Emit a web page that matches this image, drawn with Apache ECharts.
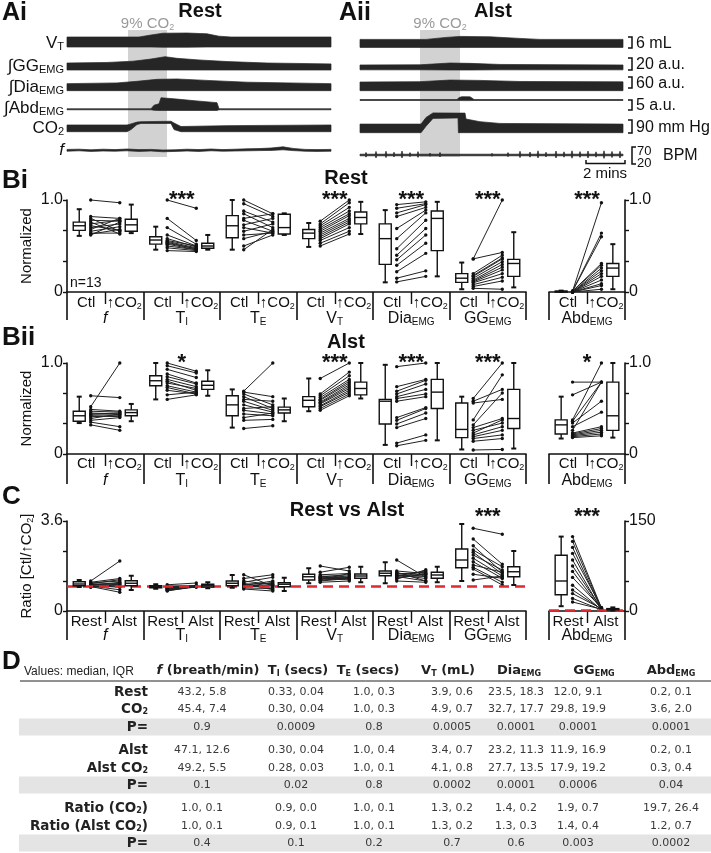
<!DOCTYPE html>
<html><head><meta charset="utf-8">
<script src="https://cdn.jsdelivr.net/npm/echarts@6/dist/echarts.min.js"></script>
<style>html,body{margin:0;padding:0;background:#fff}#c{width:711px;height:853px}</style>
</head><body><div id="c"></div>
<script>
// ---------------- DATA ----------------
// Panel A: trace envelopes [time (min), lower, upper] in trace units (0-10)
const aiVT  = [[0,1.5,6.5],[3.6,1.5,6.5],[4.2,1.5,7.5],[4.8,1.4,8.4],[6.0,1.4,8.5],[7.0,1.5,8.1],[7.6,1.5,6.9],[8.2,1.5,6.5],[13.2,1.5,6.5]];
const aiGG  = [[0,1.1,5.0],[2.0,1.1,5.3],[3.3,1.1,6.0],[4.2,1.1,7.2],[4.9,1.1,8.5],[5.5,1.1,7.6],[6.6,1.1,6.7],[8.0,1.1,5.8],[10.0,1.1,5.0],[13.2,1.1,4.5]];
const aiDia = [[0,1.3,5.2],[2.5,1.3,5.6],[3.5,1.3,6.5],[4.5,1.3,7.6],[5.5,1.3,7.8],[7.0,1.3,7.0],[9.0,1.3,6.0],[13.2,1.3,5.2]];
const aiAbd = [[0,1.3,1.9],[4.2,1.3,1.9],[4.35,1.0,4.0],[4.6,0.9,4.8],[4.7,0.9,8.4],[5.5,0.9,7.6],[6.5,0.9,6.5],[7.5,0.9,5.5],[7.6,1.3,1.9],[13.2,1.3,1.9]];
const aiCO2 = [[0,1.05,4.1],[3.0,1.05,4.1],[3.2,2.0,4.6],[3.5,4.3,5.4],[3.7,4.8,5.6],[5.2,4.8,5.8],[5.35,2.0,5.0],[5.7,1.05,3.4],[8.0,1.05,3.8],[13.2,1.05,4.1]];
const aiF   = [[0,4.4,5.3],[0.6,4.6,5.4],[1.2,4.3,5.1],[1.8,4.5,5.4],[2.4,4.4,5.2],[3.0,4.6,5.5],[3.6,4.3,5.2],[4.2,4.5,5.3],[4.8,4.1,5.0],[5.4,4.3,5.1],[6.0,4.5,5.4],[6.6,4.3,5.2],[7.2,4.6,5.5],[7.8,4.4,5.2],[8.4,4.5,5.4],[9.0,4.6,5.6],[9.6,4.7,5.7],[10.2,4.8,6.0],[10.8,5.1,6.6],[11.3,4.7,5.8],[11.9,4.4,5.3],[12.5,4.3,5.2],[13.2,4.4,5.3]];
const aiiVT  = [[0,1.3,5.3],[3.3,1.3,5.3],[4.3,1.3,6.3],[5.0,1.3,6.8],[6.5,1.3,6.6],[8.0,1.3,5.8],[9.0,1.3,5.3],[13.15,1.3,5.3]];
const aiiGG  = [[0,1.2,3.9],[3.0,1.2,4.0],[4.5,1.1,5.0],[5.5,1.1,4.8],[7.0,1.2,4.2],[13.15,1.2,3.9]];
const aiiDia = [[0,1.3,6.1],[3.0,1.3,6.3],[4.5,1.3,7.2],[6.0,1.3,7.0],[8.0,1.3,6.4],[13.15,1.3,6.2]];
const aiiAbd = [[0,6.8,7.3],[4.85,6.8,7.3],[4.95,6.8,8.5],[5.1,6.7,9.0],[5.5,6.7,8.9],[5.65,6.8,7.8],[5.7,6.8,7.3],[13.15,6.8,7.3]];
const aiiCO2 = [[0,0.6,4.5],[3.05,0.6,4.5],[3.3,3.5,7.5],[3.65,7.1,9.6],[4.9,7.3,9.5],[4.92,0.6,9.5],[5.25,0.6,9.5],[5.3,0.6,6.8],[6.0,0.6,5.6],[7.0,0.6,4.8],[13.15,0.6,4.5]];
// Aii breathing frequency: baseline [lo, hi] and spike times with spike extent
const aiiFBase = [2.1, 2.9];
const aiiFSpikes = [[0.3,1.4,3.8],[0.8,1.0,4.3],[1.3,1.2,4.4],[1.7,1.5,3.9],[2.1,1.0,4.5],[2.5,1.6,3.7],[2.9,1.3,4.2],[3.5,1.8,3.5],[4.0,1.5,3.8],[6.6,1.8,3.4],[7.4,1.6,3.7],[8.0,1.2,4.4],[8.5,1.4,4.0],[8.9,1.0,4.6],[9.3,1.5,3.9],[9.8,1.0,4.5],[10.2,1.4,4.1],[10.6,0.9,4.6],[11.0,1.3,4.2],[11.4,1.0,4.5],[11.8,1.4,4.1],[12.2,0.8,4.6],[12.6,1.2,4.3],[13.0,1.0,4.4]];
const co2WindowAi = [3.05, 5.0];
const co2WindowAii = [3.0, 5.0];
const traceNames = ['V{s|T}', '\u222BGG{s|EMG}', '\u222BDia{s|EMG}', '\u222BAbd{s|EMG}', 'CO{s|2}', '{i|f}'];
const scaleLabels = ['6 mL', '20 a.u.', '60 a.u.', '5 a.u.', '90 mm Hg'];

// Panels B/C: groups
const groupNames = ['{i|f}', 'T{s|I}', 'T{s|E}', 'V{s|T}', 'Dia{s|EMG}', 'GG{s|EMG}', 'Abd{s|EMG}'];
const catsB = ['Ctl', '\u2191CO{s|2}'];
const catsC = ['Rest', 'Alst'];

// Bi (Rest) normalized
const biBoxCtl = [[0.61,0.67,0.72,0.76,0.90],[0.46,0.52,0.565,0.60,0.71],[0.46,0.59,0.72,0.83,1.0],[0.49,0.58,0.64,0.68,0.75],[0.105,0.30,0.58,0.74,0.89],[0.03,0.105,0.15,0.20,0.32],[0,0.003,0.006,0.01,0.015]];
const biBoxCO2 = [[0.64,0.66,0.73,0.79,0.95],[0.46,0.475,0.50,0.53,0.62],[0.62,0.63,0.70,0.845,0.855],[0.63,0.74,0.81,0.87,0.98],[0.17,0.45,0.80,0.88,0.98],[0.05,0.17,0.31,0.355,0.65],[0.03,0.17,0.26,0.31,0.52]];
const biCtl = [
  [1.00,0.82,0.80,0.78,0.76,0.74,0.72,0.70,0.68,0.66,0.64,0.63,0.62],
  [1.00,0.80,0.70,0.62,0.58,0.56,0.55,0.54,0.53,0.52,0.50,0.48,0.45],
  [1.00,0.96,0.88,0.85,0.80,0.78,0.73,0.70,0.66,0.62,0.58,0.50,0.46],
  [0.77,0.74,0.72,0.70,0.68,0.66,0.64,0.62,0.60,0.58,0.56,0.53,0.50],
  [0.95,0.91,0.86,0.82,0.69,0.58,0.47,0.40,0.35,0.29,0.22,0.15,0.11],
  [0.36,0.36,0.20,0.18,0.17,0.15,0.13,0.12,0.11,0.10,0.08,0.06,0.04],
  [0.01,0.01,0.01,0.01,0.01,0.00,0.00,0.00,0.00,0.00,0.00,0.00,0.00]];
const biCO2 = [
  [0.97,0.80,0.66,0.77,0.63,0.78,0.67,0.74,0.80,0.71,0.64,0.68,0.76],
  [0.91,0.56,0.52,0.50,0.49,0.50,0.48,0.47,0.47,0.46,0.46,0.45,0.44],
  [0.85,0.82,0.76,0.70,0.85,0.66,0.80,0.64,0.74,0.64,0.66,0.62,0.68],
  [1.00,0.97,0.92,0.88,0.85,0.83,0.80,0.78,0.76,0.74,0.70,0.66,0.63],
  [0.98,0.96,0.95,0.92,0.89,0.86,0.78,0.69,0.62,0.53,0.42,0.23,0.17],
  [1.00,0.43,0.40,0.37,0.36,0.33,0.30,0.27,0.24,0.20,0.16,0.12,0.03],
  [0.97,0.64,0.60,0.31,0.29,0.26,0.23,0.20,0.17,0.13,0.09,0.07,0.03]];
const biSig = ['', '***', '', '***', '***', '***', '***'];

// Bii (Alst) normalized
const biiBoxCtl = [[0.34,0.36,0.42,0.47,0.63],[0.60,0.75,0.805,0.86,1.0],[0.29,0.42,0.54,0.64,0.71],[0.47,0.52,0.59,0.63,0.83],[0.10,0.33,0.58,0.60,0.98],[0.05,0.18,0.27,0.56,0.63],[0.17,0.22,0.32,0.375,0.63]];
const biiBoxCO2 = [[0.36,0.42,0.455,0.485,0.55],[0.64,0.71,0.755,0.80,0.92],[0.36,0.45,0.485,0.515,0.61],[0.61,0.65,0.72,0.79,1.0],[0.15,0.50,0.68,0.82,1.0],[0.06,0.28,0.39,0.71,1.0],[0.18,0.26,0.42,0.79,1.0]];
const biiCtl = [
  [0.64,0.52,0.49,0.47,0.45,0.44,0.43,0.42,0.41,0.39,0.37,0.35,0.32],
  [1.00,0.97,0.93,0.88,0.85,0.82,0.80,0.78,0.75,0.73,0.70,0.65,0.60],
  [0.69,0.68,0.66,0.63,0.60,0.58,0.54,0.50,0.48,0.44,0.40,0.37,0.28],
  [0.83,0.66,0.64,0.62,0.60,0.59,0.57,0.56,0.55,0.53,0.52,0.50,0.48],
  [0.96,0.74,0.69,0.66,0.63,0.61,0.58,0.40,0.37,0.33,0.29,0.12,0.09],
  [0.61,0.58,0.56,0.375,0.32,0.29,0.26,0.23,0.21,0.19,0.17,0.14,0.044],
  [0.79,0.65,0.375,0.36,0.34,0.30,0.26,0.23,0.22,0.21,0.20,0.19,0.18]];
const biiCO2 = [
  [0.62,1.00,0.47,0.46,0.44,0.45,0.43,0.41,0.42,0.44,0.40,0.30,0.26],
  [0.91,0.89,0.84,0.78,0.77,0.74,0.70,0.72,0.68,0.66,0.66,0.68,0.65],
  [1.00,0.63,0.54,0.50,0.58,0.48,0.46,0.52,0.44,0.42,0.45,0.38,0.31],
  [1.00,0.90,0.86,0.82,0.80,0.78,0.76,0.74,0.72,0.70,0.68,0.66,0.64],
  [1.00,0.82,0.81,0.77,0.71,0.66,0.63,0.51,0.50,0.45,0.39,0.21,0.15],
  [1.00,0.71,0.60,0.87,0.67,0.39,0.34,0.375,0.30,0.26,0.21,0.17,0.05],
  [0.79,0.79,1.00,0.79,0.58,0.46,0.79,0.30,0.28,0.26,0.24,0.22,0.20]];
const biiSig = ['', '*', '', '***', '***', '***', '*'];

// C ratio Ctl/CO2 (Rest vs Alst); Abd on right axis (0-150)
const cBoxRest = [[0.96,1.01,1.08,1.17,1.24],[0.89,0.93,0.97,1.01,1.07],[0.93,1.01,1.11,1.20,1.44],[1.11,1.24,1.37,1.47,1.71],[1.11,1.41,1.51,1.60,1.95],[1.20,1.73,2.04,2.48,3.48],[8,27,50,93,124]];
const cBoxAlst = [[0.84,1.01,1.11,1.21,1.41],[0.91,0.96,1.01,1.07,1.15],[0.80,0.97,1.07,1.13,1.33],[1.15,1.31,1.40,1.48,1.77],[1.15,1.31,1.44,1.55,1.77],[1.04,1.37,1.57,1.77,2.40],[1,2,3,4,6]];
const cRest = [
  [1.20,1.15,1.12,1.10,1.08,1.06,1.05,1.03,1.02,1.00,0.98,0.96,0.95],
  [1.05,1.00,0.98,0.96,0.95,0.93,0.92,0.90,0.88,0.86,0.84,0.82,0.80],
  [1.45,1.30,1.20,1.15,1.10,1.08,1.05,1.02,1.00,0.98,0.95,0.92,0.88],
  [1.80,1.55,1.45,1.40,1.38,1.35,1.32,1.30,1.28,1.25,1.22,1.20,1.15],
  [2.04,1.60,1.55,1.50,1.48,1.45,1.42,1.40,1.38,1.35,1.30,1.28,1.20],
  [3.31,2.88,2.61,2.44,2.35,2.24,2.11,1.97,1.84,1.75,1.68,1.47,1.24],
  [124,116,106,96,85,75,66,56,43,35,29,21,15]];
const cAlst = [
  [2.00,1.30,1.20,1.25,1.10,1.05,1.00,1.15,0.95,0.85,0.75,1.00,1.08],
  [1.12,1.00,1.02,0.98,1.00,0.97,0.98,0.96,1.00,0.97,0.98,0.96,0.99],
  [1.00,1.45,1.05,1.35,0.85,1.10,1.00,1.20,0.95,1.05,1.15,0.90,0.80],
  [1.60,1.75,1.50,1.30,1.45,1.35,1.40,1.30,1.25,1.50,1.35,1.30,1.20],
  [1.35,1.50,1.20,1.45,1.55,1.30,1.38,1.60,1.20,1.45,1.50,1.65,1.15],
  [3.07,1.87,1.55,1.77,1.48,1.64,1.40,1.31,1.55,1.15,1.04,1.31,1.40],
  [5,4,3,6,2,4,3,5,2,3,4,2,3]];
const cSig = ['', '', '', '', '', '***', '***'];
const unityRatio = 1;

// D table
const tableHead = ['{bi|f} (breath/min)', 'T{s|I} (secs)', 'T{s|E} (secs)', 'V{s|T} (mL)', 'Dia{s|EMG}', 'GG{s|EMG}', 'Abd{s|EMG}'];
const tableRows = ['Rest', 'CO{s|2}', 'P=', 'Alst', 'Alst CO{s|2}', 'P=', 'Ratio (CO{s|2})', 'Ratio (Alst CO{s|2})', 'P='];
const tableVals = [
  ['43.2, 5.8','0.33, 0.04','1.0, 0.3','3.9, 0.6','23.5, 18.3','12.0, 9.1','0.2, 0.1'],
  ['45.4, 7.4','0.30, 0.04','1.0, 0.3','4.9, 0.7','32.7, 17.7','29.8, 19.9','3.6, 2.0'],
  ['0.9','0.0009','0.8','0.0005','0.0001','0.0001','0.0001'],
  ['47.1, 12.6','0.30, 0.04','1.0, 0.4','3.4, 0.7','23.2, 11.3','11.9, 16.9','0.2, 0.1'],
  ['49.2, 5.5','0.28, 0.03','1.0, 0.1','4.1, 0.8','27.7, 13.5','17.9, 19.2','0.3, 0.4'],
  ['0.1','0.02','0.8','0.0002','0.0001','0.0006','0.04'],
  ['1.0, 0.1','0.9, 0.0','1.0, 0.1','1.3, 0.2','1.4, 0.2','1.9, 0.7','19.7, 26.4'],
  ['1.0, 0.1','0.9, 0.1','1.0, 0.1','1.3, 0.2','1.3, 0.3','1.4, 0.4','1.2, 0.7'],
  ['0.4','0.1','0.2','0.7','0.6','0.003','0.0002']];

// ---------------- LAYOUT / BUILD ----------------
const FONT = "'Liberation Sans', Arial, sans-serif";
const TFONT = "'DejaVu Sans', Verdana, sans-serif";
const INK = '#111';
function richFor(fs, fam, weight, color) {
  return {
    s: { fontSize: Math.round(fs * 0.62), lineHeight: 6, verticalAlign: 'bottom', fontFamily: fam || FONT, color: color || INK, fontWeight: weight || 'normal' },
    i: { fontSize: fs, fontStyle: 'italic', fontFamily: fam || FONT, color: color || INK, fontWeight: weight || 'normal' },
    bi: { fontSize: fs, fontStyle: 'italic', fontWeight: 'bold', fontFamily: fam || FONT, color: color || INK }
  };
}
// build narrow-spike envelope for Aii f trace from baseline + spikes
const aiiF = [[0, aiiFBase[0], aiiFBase[1]]];
aiiFSpikes.forEach(s => {
  aiiF.push([s[0] - 0.04, aiiFBase[0], aiiFBase[1]]);
  aiiF.push([s[0], s[1], s[2]]);
  aiiF.push([s[0] + 0.04, aiiFBase[0], aiiFBase[1]]);
});
aiiF.push([13.15, aiiFBase[0], aiiFBase[1]]);

const grids = [], xAxes = [], yAxes = [], series = [], graphics = [];

// ---- Panel A traces ----
const rows = [{top:30,h:20},{top:54,h:18},{top:75,h:18},{top:95,h:17},{top:112,h:22},{top:140,h:20}];
const panelsA = [
  { left: 67, width: 264, T: 13.2, traces: [aiVT, aiGG, aiDia, aiAbd, aiCO2, aiF], win: co2WindowAi },
  { left: 360, width: 263, T: 13.15, traces: [aiiVT, aiiGG, aiiDia, aiiAbd, aiiCO2, aiiF], win: co2WindowAii }
];
panelsA.forEach(P => {
  const gi = grids.length;
  grids.push({ left: P.left, top: 30, width: P.width, height: 127 });
  xAxes.push({ gridIndex: gi, type: 'value', min: 0, max: P.T, show: false });
  yAxes.push({ gridIndex: gi, type: 'value', min: 0, max: 1, show: false });
  series.push({ type: 'line', xAxisIndex: xAxes.length - 1, yAxisIndex: yAxes.length - 1, data: [[0, -1]], symbol: 'none', lineStyle: { opacity: 0 }, z: 1, silent: true,
    markArea: { silent: true, itemStyle: { color: '#d2d2d2' },
      label: { show: true, position: 'top', distance: -2, formatter: '9% CO{s|2}', color: '#9a9a9a', fontSize: 15, fontFamily: FONT, lineHeight: 16,
        rich: { s: { fontSize: 9, lineHeight: 6, verticalAlign: 'bottom', color: '#9a9a9a', fontFamily: FONT } } },
      data: [[{ xAxis: P.win[0] }, { xAxis: P.win[1] }]] } });
  P.traces.forEach((tr, r) => {
    const g = grids.length;
    grids.push({ left: P.left, top: rows[r].top, width: P.width, height: rows[r].h });
    xAxes.push({ gridIndex: g, type: 'value', min: 0, max: P.T, show: false });
    yAxes.push({ gridIndex: g, type: 'value', min: 0, max: 10, show: false });
    series.push({ type: 'custom', xAxisIndex: xAxes.length - 1, yAxisIndex: yAxes.length - 1, data: tr, z: 3, silent: true,
      renderItem: (params, api) => {
        if (params.dataIndex !== 0) return { type: 'group', children: [] };
        const up = tr.map(d => api.coord([d[0], d[2]]));
        const lo = tr.map(d => api.coord([d[0], d[1]])).reverse();
        return { type: 'polygon', shape: { points: up.concat(lo) }, style: { fill: '#262626', stroke: '#262626', lineWidth: 0.7 } };
      } });
  });
});

// ---- Panels B / C ----
function boxRender(params, api) {
  const x = api.value(0);
  const p = [1,2,3,4,5].map(k => api.coord([x, api.value(k)]));
  const cx = p[0][0], hw = 6, cw = 2.5;
  const st = { stroke: INK, lineWidth: 1.4 };
  return { type: 'group', children: [
    { type: 'line', shape: { x1: cx, y1: p[4][1], x2: cx, y2: p[3][1] }, style: st },
    { type: 'line', shape: { x1: cx, y1: p[1][1], x2: cx, y2: p[0][1] }, style: st },
    { type: 'line', shape: { x1: cx - cw, y1: p[4][1], x2: cx + cw, y2: p[4][1] }, style: { stroke: INK, lineWidth: 2 } },
    { type: 'line', shape: { x1: cx - cw, y1: p[0][1], x2: cx + cw, y2: p[0][1] }, style: { stroke: INK, lineWidth: 2 } },
    { type: 'rect', shape: { x: cx - hw, y: p[3][1], width: 2 * hw, height: Math.max(1, p[1][1] - p[3][1]) }, style: { stroke: INK, lineWidth: 1.4, fill: '#fff' } },
    { type: 'line', shape: { x1: cx - hw, y1: p[2][1], x2: cx + hw, y2: p[2][1] }, style: st }
  ] };
}
function pairRender(params, api) {
  const a = api.coord([api.value(0), api.value(1)]);
  const b = api.coord([api.value(2), api.value(3)]);
  return { type: 'group', children: [
    { type: 'line', shape: { x1: a[0], y1: a[1], x2: b[0], y2: b[1] }, style: { stroke: '#222', lineWidth: 1 } },
    { type: 'circle', shape: { cx: a[0], cy: a[1], r: 1.7 }, style: { fill: INK } },
    { type: 'circle', shape: { cx: b[0], cy: b[1], r: 1.7 }, style: { fill: INK } }
  ] };
}
const BOX_A = 0.16, PAIR_A = 0.31, PAIR_B = 0.69, BOX_B = 0.84;
const axLine = { show: true, onZero: false, lineStyle: { color: INK, width: 1.6 } };

function buildPanel(P) {
  const parts = [
    { left: 67, width: 459, groups: [0,1,2,3,4,5], yMax: P.yMax, yInt: P.yInt, yLab: P.yLab, pos: 'left', name: P.yName },
    { left: 549, width: 76, groups: [6], yMax: P.rMax, yInt: P.rInt, yLab: P.rLab, pos: 'right', name: '' }
  ];
  parts.forEach((Q, qi) => {
    const g = grids.length;
    grids.push({ left: Q.left, top: P.top, width: Q.width, height: P.height });
    const n = Q.groups.length;
    const xv = xAxes.length;
    xAxes.push({ gridIndex: g, type: 'value', min: 0, max: n, interval: 1, position: 'bottom',
      axisLine: axLine, axisTick: { show: true, inside: false, length: P.tickLen, lineStyle: { color: INK, width: 1.6 } },
      minorTick: { show: true, splitNumber: 2, length: 12, lineStyle: { color: INK, width: 1.4 } },
      axisLabel: { show: false }, splitLine: { show: false }, minorSplitLine: { show: false } });
    const cats = [];
    Q.groups.forEach(() => { cats.push(P.cats[0], P.cats[1]); });
    xAxes.push({ gridIndex: g, type: 'category', data: cats, position: 'bottom', axisLine: { show: false }, axisTick: { show: false },
      axisLabel: { margin: P.catMargin, fontSize: 15, lineHeight: 16, color: INK, fontFamily: FONT, interval: 0, rich: richFor(15) } });
    xAxes.push({ gridIndex: g, type: 'category', data: Q.groups.map(k => groupNames[k]), position: 'bottom', axisLine: { show: false }, axisTick: { show: false },
      axisLabel: { margin: P.grpMargin, fontSize: 16, lineHeight: 16, color: INK, fontFamily: FONT, interval: 0, rich: richFor(16) } });
    const yi = yAxes.length;
    yAxes.push({ gridIndex: g, type: 'value', min: 0, max: Q.yMax, interval: Q.yInt, position: Q.pos,
      axisLine: axLine, axisTick: { show: true, length: 4, lineStyle: { color: INK, width: 1.4 } }, splitLine: { show: false },
      axisLabel: { fontSize: 16, color: INK, fontFamily: FONT, margin: 4, showMaxLabel: true, showMinLabel: true,
        formatter: v => Math.abs(v) < 1e-9 ? '0' : (Math.abs(v - Q.yMax) < 1e-6 ? Q.yLab : '') },
      name: Q.name, nameLocation: 'middle', nameGap: 32, nameRotate: 90, nameMoveOverlap: false,
      nameTextStyle: { fontSize: 15, color: INK, fontFamily: FONT, lineHeight: 16, rich: richFor(15) } });
    if (P.dashed) {
      series.push({ type: 'line', xAxisIndex: xv, yAxisIndex: yi, data: [[0, -10]], symbol: 'none', lineStyle: { opacity: 0 }, z: 2, silent: true,
        markLine: { silent: true, symbol: 'none', label: { show: false }, data: [{ yAxis: unityRatio }],
          lineStyle: { color: '#e0282e', type: [10, 6], width: 2.6 } } });
    }
    const boxes = [], pairs = [], sig = [];
    Q.groups.forEach((k, j) => {
      boxes.push([j + BOX_A].concat(P.boxA[k]));
      boxes.push([j + BOX_B].concat(P.boxB[k]));
      P.pairA[k].forEach((v, s) => pairs.push([j + PAIR_A, v, j + PAIR_B, P.pairB[k][s]]));
      sig.push([j + 0.5, qi === 0 ? P.sigY : P.sigYR, P.sig[k]]);
    });
    series.push({ type: 'custom', xAxisIndex: xv, yAxisIndex: yi, data: pairs, renderItem: pairRender, z: 4, silent: true, clip: false });
    series.push({ type: 'custom', xAxisIndex: xv, yAxisIndex: yi, data: boxes, renderItem: boxRender, z: 5, silent: true, clip: false });
    series.push({ type: 'custom', xAxisIndex: xv, yAxisIndex: yi, data: sig.map(s => [s[0], s[1]]), z: 6, silent: true, clip: false,
      renderItem: (params, api) => {
        const c = api.coord([api.value(0), api.value(1)]);
        return { type: 'text', x: c[0], y: c[1], style: { text: sig[params.dataIndex][2], fill: INK, font: 'bold 22px ' + FONT, align: 'center', verticalAlign: 'middle' } };
      } });
  });
}

buildPanel({ top: 200, height: 92, yMax: 1, yInt: 1/3, yLab: '1.0', rMax: 1, rInt: 1/3, rLab: '1.0', yName: 'Normalized',
  cats: catsB, boxA: biBoxCtl, boxB: biBoxCO2, pairA: biCtl, pairB: biCO2, sig: biSig, sigY: 1.0, sigYR: 1.0,
  tickLen: 28, catMargin: 3, grpMargin: 19, dashed: false });
buildPanel({ top: 363, height: 91, yMax: 1, yInt: 1/3, yLab: '1.0', rMax: 1, rInt: 1/3, rLab: '1.0', yName: 'Normalized',
  cats: catsB, boxA: biiBoxCtl, boxB: biiBoxCO2, pairA: biiCtl, pairB: biiCO2, sig: biiSig, sigY: 1.0, sigYR: 1.0,
  tickLen: 30, catMargin: 2, grpMargin: 19, dashed: false });
buildPanel({ top: 521, height: 90, yMax: 3.6, yInt: 1.2, yLab: '3.6', rMax: 150, rInt: 50, rLab: '150', yName: 'Ratio [Ctl/\u2191CO{s|2}]',
  cats: catsC, boxA: cBoxRest, boxB: cBoxAlst, pairA: cRest, pairB: cAlst, sig: cSig, sigY: 3.78, sigYR: 157,
  tickLen: 29, catMargin: 3, grpMargin: 17, dashed: true });

// ---- graphic texts ----
function txt(text, x, y, o) {
  o = o || {};
  const fs = o.fs || 16, fam = o.fam || FONT, w = o.w || 'normal';
  graphics.push({ type: 'text', x: x, y: y, silent: true, z: 100, style: {
    text: text, fill: o.color || INK, fontSize: fs, fontFamily: fam, fontWeight: w, fontStyle: o.italic ? 'italic' : 'normal',
    align: o.align || 'left', verticalAlign: o.va || 'middle', lineHeight: o.lh || fs + 1, rich: richFor(o.rs || fs, fam, w, o.color) } });
}
function pl(points, o) {
  o = o || {};
  graphics.push({ type: 'polyline', silent: true, z: 100, shape: { points: points }, style: { stroke: o.color || INK, lineWidth: o.lw || 1.5, fill: null } });
}
txt('Ai', 2, 13, { fs: 25, w: 'bold' });
txt('Aii', 339, 13, { fs: 25, w: 'bold' });
txt('Rest', 200, 11, { fs: 20, w: 'bold', align: 'center' });
txt('Alst', 493, 11, { fs: 20, w: 'bold', align: 'center' });
txt('Bi', 2, 181, { fs: 26, w: 'bold' });
txt('Rest', 346, 178, { fs: 20, w: 'bold', align: 'center' });
txt('Bii', 2, 338, { fs: 26, w: 'bold' });
txt('Alst', 346, 342, { fs: 20, w: 'bold', align: 'center' });
txt('C', 2, 497, { fs: 26, w: 'bold' });
txt('Rest vs Alst', 347, 510, { fs: 20, w: 'bold', align: 'center' });
txt('D', 2, 662, { fs: 26, w: 'bold' });
txt('n=13', 70, 283, { fs: 14 });
const traceLabelY = [43, 66, 87, 108, 128, 150];
traceNames.forEach((t, i) => txt(t, 64, traceLabelY[i], { fs: 17, align: 'right', lh: 18 }));
const scaleY = [[37,48],[58,70],[77,88],[100,110],[120,133]];
scaleLabels.forEach((t, i) => {
  const [a, b] = scaleY[i];
  pl([[628, a], [632, a], [632, b], [628, b]]);
  txt(t, 636, (a + b) / 2 + 1, { fs: 16 });
});
pl([[636, 147], [632, 147], [632, 164], [636, 164]]);
txt('70', 637, 151, { fs: 13 });
txt('20', 637, 163, { fs: 13 });
txt('BPM', 663, 156, { fs: 16 });
pl([[586, 160], [586, 163.5], [625, 163.5], [625, 160]]);
txt('2 mins', 605, 174, { fs: 15, align: 'center' });

// ---- table D ----
const colX = [202, 296, 374, 452, 516, 578, 671];
const headX = [208, 298, 368, 448, 519, 594, 671];
const rowY = [692, 709, 727, 750, 768, 785, 808, 826, 843];
[2, 5, 8].forEach(r => graphics.push({ type: 'rect', silent: true, z: 1, shape: { x: 19, y: rowY[r] - 8.5, width: 692, height: 17 }, style: { fill: '#e4e4e4' } }));
graphics.push({ type: 'line', silent: true, z: 2, shape: { x1: 20, y1: 681, x2: 711, y2: 681 }, style: { stroke: '#222', lineWidth: 1 } });
txt('Values: median, IQR', 24, 672, { fs: 12, fam: "'Liberation Sans Narrow', 'Liberation Sans', Arial", color: '#222' });
tableHead.forEach((h, i) => txt(h, headX[i], 671, { fs: 13, fam: TFONT, w: 'bold', align: 'center', color: '#222' }));
tableRows.forEach((r, i) => txt(r, 148, rowY[i], { fs: 13.5, fam: TFONT, w: 'bold', align: 'right', color: '#222' }));
tableVals.forEach((row, i) => row.forEach((v, j) => txt(v, colX[j], rowY[i], { fs: 11, fam: TFONT, align: 'center', color: '#3a3a3a' })));

const chart = echarts.init(document.getElementById('c'), null, { renderer: 'canvas' });
chart.setOption({
  animation: false,
  backgroundColor: '#fff',
  grid: grids, xAxis: xAxes, yAxis: yAxes, series: series, graphic: { elements: graphics }
});
</script></body></html>
